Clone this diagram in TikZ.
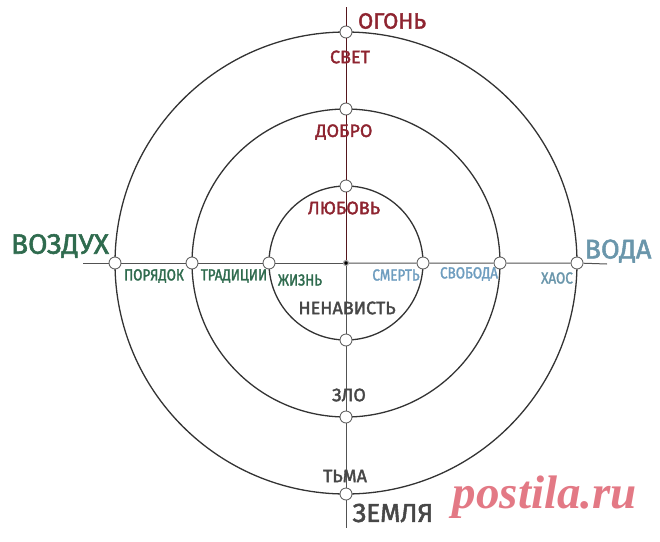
\documentclass[tikz,border=0pt]{standalone}
\usepackage{fontspec}
\setmainfont{Fira Sans}
\newfontfamily\cond[FakeStretch=0.84,FakeBold=1.8]{Fira Sans}
\newfontfamily\plain[FakeBold=2]{Fira Sans}
\newfontfamily\wmfont{Liberation Serif}
\definecolor{fire}{HTML}{8E2430}
\definecolor{air}{HTML}{2F6B4E}
\definecolor{water}{HTML}{6E9DBF}
\definecolor{waterdk}{HTML}{6A96AB}
\definecolor{earth}{HTML}{474747}
\definecolor{ringc}{HTML}{333333}
\definecolor{wm}{HTML}{E37985}
\tikzset{
  ring/.style={draw=ringc, line width=1.3pt},
  axis/.style={draw=ringc!85, line width=1pt},
  junction/.style={circle, draw=gray!80!black, fill=white, line width=0.9pt, minimum size=12pt, inner sep=0pt},
  centre/.style={circle, draw=gray!70, fill=black, line width=1.2pt, minimum size=5pt, inner sep=0pt},
  lbl/.style={font=\plain\fontsize{18}{18}\selectfont, inner sep=0pt, anchor=center},
  small/.style={font=\cond\fontsize{16}{16}\selectfont, inner sep=0pt, anchor=center},
}
\begin{document}
\begin{tikzpicture}[x=1pt,y=-1pt]
\useasboundingbox (0,0) rectangle (660,541);
\coordinate (C) at (346,263);
% rings
\draw[ring] (C) circle[radius=231pt];
\draw[ring] (C) circle[radius=154pt];
\draw[ring] (C) circle[radius=77pt];
% axis ends
\coordinate (topend) at (346,7);
\coordinate (botend) at (346,528);
\coordinate (leftend) at (83,263);
\coordinate (rightend) at (607,264);
% junctions
\node[junction] (ot) at (346,32) {};
\node[junction] (mt) at (346,109) {};
\node[junction] (it) at (346,186) {};
\node[junction] (ib) at (346,340) {};
\node[junction] (mb) at (346,417) {};
\node[junction] (ob) at (346,494) {};
\node[junction] (ol) at (115,263) {};
\node[junction] (ml) at (192,263) {};
\node[junction] (il) at (269,263) {};
\node[junction] (ir) at (423,263) {};
\node[junction] (mr) at (500,263) {};
\node[junction] (or) at (577,263) {};
\node[centre] (c) at (C) {};
% axis lines
\draw[axis, draw=fire!60!black] (topend) -- (ot) (ot) -- (mt) (mt) -- (it) (it) -- (c);
\draw[axis] (c) -- (ib) (ib) -- (mb) (mb) -- (ob) (ob) -- (botend);
\draw[axis] (leftend) -- (ol) (ol) -- (ml) (ml) -- (il) (il) -- (c);
\draw[axis] (c) -- (ir) (ir) -- (mr) (mr) -- (or) (or) -- (rightend);
% labels fire
\node[lbl, text=fire, font=\plain\fontsize{22}{22}\selectfont] (ogon) at (392,21) {ОГОНЬ};
\node[lbl, text=fire] (svet) at (350,57) {СВЕТ};
\node[lbl, text=fire] (dobro) at (344,132) {ДОБРО};
\node[lbl, text=fire] (lubov) at (344,208) {ЛЮБОВЬ};
% earth
\node[lbl, text=earth] (nenav) at (347,308) {НЕНАВИСТЬ};
\node[lbl, text=earth] (zlo) at (349,395) {ЗЛО};
\node[lbl, text=earth] (tma) at (345,476) {ТЬМА};
\node[lbl, text=earth, font=\plain\fontsize{26}{26}\selectfont] (zemlya) at (393,513) {ЗЕМЛЯ};
% air
\node[lbl, text=air, font=\plain\fontsize{28}{28}\selectfont] (vozduh) at (60,246) {ВОЗДУХ};
\node[small, text=air] (poryadok) at (154,276) {ПОРЯДОК};
\node[small, text=air] (tradicii) at (234,276) {ТРАДИЦИИ};
\node[small, text=air] (zhizn) at (300,280) {ЖИЗНЬ};
% water
\node[small, text=water] (smert) at (396,275) {СМЕРТЬ};
\node[small, text=water] (svoboda) at (469,274) {СВОБОДА};
\node[small, text=waterdk] (haos) at (557,278) {ХАОС};
\node[lbl, text=waterdk, font=\plain\fontsize{27}{27}\selectfont] (voda) at (618,251) {ВОДА};
% watermark
\node[inner sep=0pt, text=wm, font=\wmfont\bfseries\itshape\fontsize{47}{47}\selectfont] (wmark) at (545,497) {postila.ru};
\end{tikzpicture}
\end{document}
